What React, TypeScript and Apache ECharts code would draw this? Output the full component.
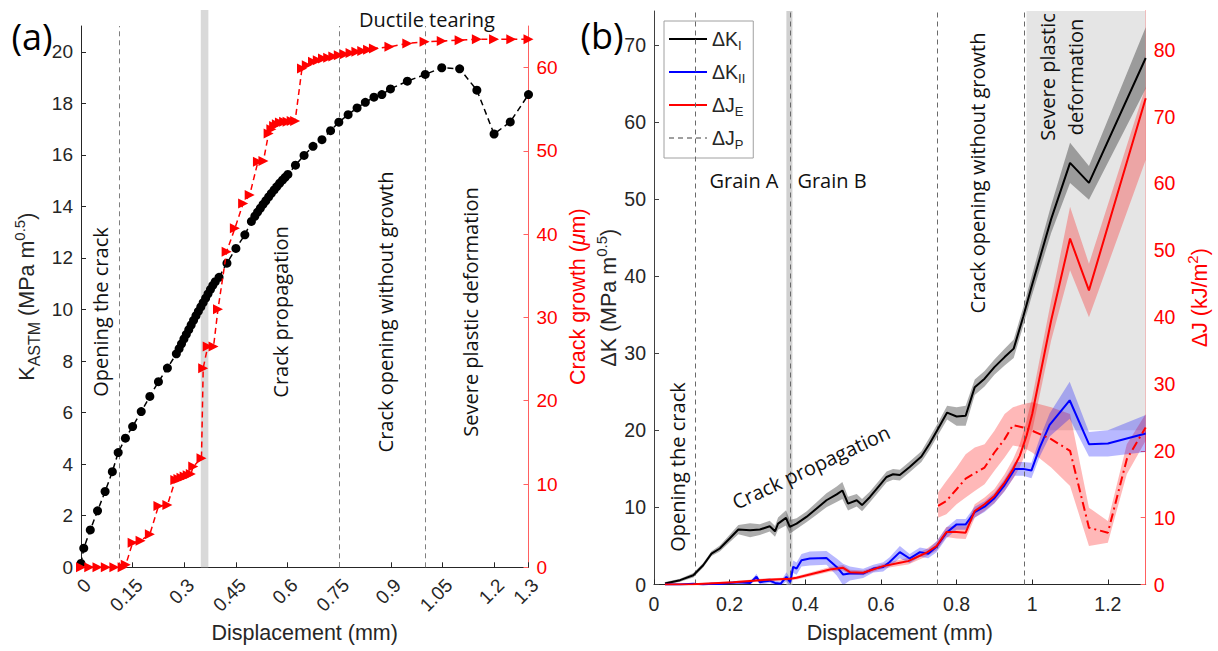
import React, { useEffect, useRef } from "react";
import * as echarts from "echarts";

// ---------- Panel (a) data ----------
const KA_x = [0, 0.008, 0.027, 0.048, 0.07, 0.091, 0.108, 0.129, 0.15, 0.175, 0.2, 0.225, 0.251, 0.277, 0.285, 0.292, 0.299, 0.306, 0.313, 0.32, 0.327, 0.334, 0.341, 0.348, 0.355, 0.362, 0.369, 0.376, 0.383, 0.39, 0.401, 0.424, 0.45, 0.476, 0.495, 0.505, 0.513, 0.521, 0.529, 0.537, 0.545, 0.553, 0.561, 0.569, 0.577, 0.585, 0.593, 0.601, 0.623, 0.648, 0.674, 0.7, 0.725, 0.749, 0.776, 0.802, 0.826, 0.851, 0.874, 0.899, 0.948, 1.0, 1.048, 1.1, 1.15, 1.2, 1.247, 1.3];
const KA_y = [0.15, 0.74, 1.45, 2.19, 2.94, 3.71, 4.45, 5.01, 5.46, 6.04, 6.63, 7.2, 7.73, 8.28, 8.48, 8.67, 8.86, 9.04, 9.22, 9.4, 9.58, 9.76, 9.93, 10.1, 10.27, 10.44, 10.61, 10.78, 10.94, 11.08, 11.25, 11.8, 12.37, 12.9, 13.42, 13.62, 13.78, 13.93, 14.08, 14.22, 14.37, 14.51, 14.64, 14.77, 14.9, 15.02, 15.13, 15.24, 15.6, 15.98, 16.33, 16.59, 16.94, 17.27, 17.56, 17.82, 18.04, 18.24, 18.34, 18.56, 18.86, 19.12, 19.38, 19.34, 18.51, 16.81, 17.28, 18.34];
const CG_x = [0, 0.024, 0.048, 0.072, 0.097, 0.121, 0.13, 0.15, 0.173, 0.2, 0.225, 0.251, 0.274, 0.283, 0.292, 0.301, 0.31, 0.319, 0.326, 0.35, 0.355, 0.368, 0.385, 0.398, 0.423, 0.447, 0.471, 0.49, 0.514, 0.53, 0.545, 0.553, 0.561, 0.569, 0.578, 0.59, 0.6, 0.612, 0.622, 0.642, 0.656, 0.674, 0.688, 0.703, 0.718, 0.733, 0.749, 0.766, 0.783, 0.8, 0.817, 0.834, 0.851, 0.896, 0.948, 0.998, 1.048, 1.1, 1.15, 1.2, 1.25, 1.3];
const CG_y = [0, 0, 0, 0, 0, 0, 0.3, 2.95, 3.2, 3.96, 7.36, 7.48, 10.48, 10.6, 10.75, 10.9, 11.05, 11.2, 12.1, 13.1, 23.9, 26.5, 26.5, 31.0, 37.9, 40.7, 43.7, 44.7, 48.7, 48.8, 52.1, 52.6, 53.0, 53.2, 53.4, 53.5, 53.5, 53.6, 53.6, 59.9, 60.3, 60.7, 60.9, 61.1, 61.2, 61.35, 61.5, 61.6, 61.75, 61.9, 62.0, 62.15, 62.3, 62.5, 62.9, 63.1, 63.2, 63.3, 63.4, 63.4, 63.4, 63.4];
const XA_TICKS = [0, 0.15, 0.3, 0.45, 0.6, 0.75, 0.9, 1.05, 1.2, 1.3];
const YA_TICKS = [0, 2, 4, 6, 8, 10, 12, 14, 16, 18, 20];
const YA2_TICKS = [0, 10, 20, 30, 40, 50, 60];
const PHASE_A = [0.108, 0.75, 1.0];
const GRAIN_BAND_A = [0.348, 0.37];

// ---------- Panel (b) data ----------
const KI_x = [0.029, 0.069, 0.104, 0.13, 0.152, 0.174, 0.2, 0.223, 0.254, 0.28, 0.306, 0.32, 0.328, 0.349, 0.359, 0.377, 0.403, 0.43, 0.456, 0.483, 0.498, 0.513, 0.536, 0.55, 0.571, 0.597, 0.615, 0.632, 0.65, 0.676, 0.707, 0.729, 0.751, 0.775, 0.8, 0.824, 0.848, 0.874, 0.9, 0.927, 0.951, 0.976, 0.998, 1.05, 1.1, 1.15, 1.3];
const KI_y = [0.13, 0.56, 1.2, 2.5, 4.0, 4.67, 5.97, 7.13, 7.04, 7.13, 7.56, 6.9, 7.9, 8.64, 7.47, 7.9, 8.77, 9.86, 10.93, 11.7, 12.2, 10.5, 10.93, 10.3, 11.36, 12.9, 13.95, 14.3, 14.2, 15.25, 16.6, 18.3, 20.2, 22.3, 21.8, 21.9, 25.6, 26.7, 28.2, 29.5, 30.6, 34.7, 38.6, 47.4, 54.7, 52.1, 68.3];
const KI_err = [0.2, 0.2, 0.3, 0.3, 0.3, 0.4, 0.5, 0.6, 0.9, 0.7, 0.7, 0.7, 0.8, 1.0, 0.9, 0.7, 0.7, 0.8, 0.9, 1.0, 1.1, 0.9, 0.8, 0.8, 0.7, 0.7, 0.7, 0.7, 0.7, 0.7, 0.7, 0.8, 0.8, 0.9, 1.2, 1.3, 1.0, 1.0, 1.0, 1.1, 1.2, 1.2, 1.3, 1.8, 2.6, 2.2, 4.0];
const KII_x = [0.029, 0.069, 0.104, 0.13, 0.152, 0.174, 0.2, 0.223, 0.254, 0.271, 0.28, 0.306, 0.32, 0.335, 0.35, 0.36, 0.368, 0.377, 0.39, 0.412, 0.456, 0.483, 0.5, 0.518, 0.553, 0.58, 0.606, 0.623, 0.65, 0.676, 0.703, 0.725, 0.747, 0.773, 0.8, 0.824, 0.848, 0.874, 0.9, 0.927, 0.954, 0.976, 0.998, 1.02, 1.046, 1.099, 1.15, 1.2, 1.3];
const KII_y = [0, 0, 0.1, 0, 0.1, 0.05, 0.2, 0.3, 0.2, 1.0, 0.3, 0.5, 0.2, 0.1, 1.0, 0.3, 2.3, 2.07, 3.15, 3.37, 3.45, 2.28, 1.3, 1.43, 1.43, 2.07, 2.28, 2.93, 4.2, 3.37, 4.2, 4.0, 4.9, 6.7, 7.8, 7.8, 9.4, 10.1, 11.2, 12.9, 15.0, 15.0, 14.8, 17.8, 20.7, 23.9, 18.2, 18.3, 19.6];
const KII_err = [0.1, 0.1, 0.1, 0.1, 0.1, 0.1, 0.2, 0.2, 0.2, 0.4, 0.3, 0.3, 0.3, 0.3, 0.6, 0.5, 0.8, 0.8, 0.8, 0.9, 0.9, 1.1, 1.4, 0.9, 0.6, 0.5, 0.6, 0.6, 0.8, 0.6, 0.6, 0.6, 0.7, 0.7, 0.7, 0.7, 0.7, 0.7, 0.7, 0.8, 0.9, 0.9, 1.0, 1.2, 1.5, 2.4, 1.6, 1.7, 2.4];
const JE_x = [0.029, 0.104, 0.21, 0.28, 0.36, 0.377, 0.465, 0.5, 0.518, 0.553, 0.606, 0.65, 0.672, 0.72, 0.747, 0.773, 0.8, 0.824, 0.848, 0.874, 0.9, 0.927, 0.949, 0.967, 0.985, 1.0, 1.05, 1.1, 1.15, 1.3];
const JE_y = [0, 0.05, 0.35, 0.65, 0.85, 1.0, 2.25, 2.5, 1.85, 1.75, 2.75, 3.25, 3.5, 4.75, 5.75, 7.85, 7.85, 7.75, 11.0, 12.0, 13.25, 15.25, 17.25, 19.25, 22.25, 25.5, 39.5, 51.75, 44.0, 72.75];
const JE_lo = [0, 0, 0.2, 0.45, 0.6, 0.75, 1.9, 2.1, 1.5, 1.4, 2.4, 2.8, 3.0, 4.2, 5.1, 7.1, 6.9, 6.8, 10.0, 11.0, 12.2, 14.0, 15.8, 17.5, 20.0, 23.0, 36.5, 47.0, 40.0, 63.5];
const JE_hi = [0.1, 0.15, 0.5, 0.85, 1.1, 1.25, 2.6, 2.9, 2.2, 2.1, 3.1, 3.7, 4.0, 5.3, 6.4, 8.6, 8.8, 8.7, 12.0, 13.0, 14.3, 16.5, 18.7, 21.0, 24.5, 28.0, 42.5, 56.5, 48.0, 74.5];
const JP_x = [0.751, 0.773, 0.8, 0.824, 0.848, 0.874, 0.9, 0.927, 0.949, 0.976, 1.0, 1.05, 1.1, 1.15, 1.2, 1.25, 1.3];
const JP_y = [11.75, 12.5, 14.25, 15.85, 16.65, 17.5, 19.75, 21.75, 23.85, 23.5, 23.0, 21.75, 20.0, 8.5, 7.75, 18.75, 23.5];
const JP_lo = [10.0, 10.5, 12.0, 13.0, 14.0, 15.0, 17.0, 19.0, 20.8, 20.5, 19.75, 17.5, 14.75, 5.75, 6.25, 16.5, 21.5];
const JP_hi = [13.75, 15.5, 17.5, 19.5, 20.5, 21.0, 23.0, 25.5, 26.5, 27.0, 27.25, 26.5, 25.5, 11.5, 9.5, 21.0, 25.5];
const XB_TICKS = [0, 0.2, 0.4, 0.6, 0.8, 1, 1.2];
const YB_TICKS = [0, 10, 20, 30, 40, 50, 60, 70];
const YB2_TICKS = [0, 10, 20, 30, 40, 50, 60, 70, 80];
const PHASE_B = [0.108, 0.358, 0.75, 0.985];
const GRAIN_BAND_B = [0.35, 0.366];
const SEVERE_REGION = { x0: 0.985, x1: 1.3, y0: 20 };
const YB_MAX = 74.4;
const YB2_MAX = 85.8;

const FONT = "'Liberation Sans', Arial, sans-serif";
const AFONT = "'Open Sans', sans-serif";
const DARK = "#262626";
const RED = "#ff0000";
const TITLE_FS = 21.5;

function band(xs: number[], lo: number[], hi: number[], color: string, xi: number, yi: number) {
  return {
    type: "custom",
    xAxisIndex: xi,
    yAxisIndex: yi,
    silent: true,
    clip: true,
    z: 3,
    data: xs.map((x, i) => [x, lo[i], hi[i]]),
    encode: { x: 0, y: [1, 2] },
    renderItem: (params: any, api: any) => {
      if (params.dataIndex !== 0) return null;
      const pts: number[][] = [];
      for (let i = 0; i < xs.length; i++) pts.push(api.coord([xs[i], hi[i]]));
      for (let i = xs.length - 1; i >= 0; i--) pts.push(api.coord([xs[i], lo[i]]));
      return { type: "polygon", shape: { points: pts }, style: { fill: color } };
    },
  };
}

const pairs = (xs: number[], ys: number[]) => xs.map((x, i) => [x, ys[i]]);

function xAxisCfg(grid: number, ticks: number[], fs: number, rotate: number, nameGap: number, extraLabel: any) {
  return {
    type: "value",
    gridIndex: grid,
    min: 0,
    max: 1.3,
    axisLine: { show: true, onZero: false, lineStyle: { color: DARK, width: 1 } },
    axisTick: { show: true, inside: true, length: 5, customValues: ticks, lineStyle: { color: DARK } },
    axisLabel: { customValues: ticks, rotate, fontSize: fs, color: DARK, fontFamily: FONT, margin: 9, ...extraLabel },
    splitLine: { show: false },
    name: "Displacement (mm)",
    nameLocation: "middle",
    nameGap,
    nameTextStyle: { fontSize: TITLE_FS, color: DARK, fontFamily: FONT },
  };
}

function yAxisCfg(grid: number, pos: string, max: number, ticks: number[], color: string, lineColor: string, fs: number, name: string, nameGap: number, rich: any) {
  return {
    type: "value",
    gridIndex: grid,
    position: pos,
    min: 0,
    max,
    axisLine: { show: true, onZero: false, lineStyle: { color: lineColor, width: 1 } },
    axisTick: { show: true, inside: true, length: 5, customValues: ticks, lineStyle: { color: lineColor } },
    axisLabel: { customValues: ticks, fontSize: fs, color, fontFamily: FONT, margin: 8 },
    splitLine: { show: false },
    name,
    nameLocation: "middle",
    nameRotate: 90,
    nameGap,
    nameTextStyle: { color, fontFamily: FONT, rich },
  };
}

function makeRich(color: string) {
  return {
    b: { fontSize: TITLE_FS, color, fontFamily: FONT, lineHeight: 30, verticalAlign: "middle" },
    s: { fontSize: 16, color, fontFamily: FONT, lineHeight: 16, verticalAlign: "bottom" },
    p: { fontSize: 15, color, fontFamily: FONT, lineHeight: 15, verticalAlign: "top" },
    i: { fontSize: TITLE_FS, color, fontFamily: FONT, fontStyle: "italic", lineHeight: 30, verticalAlign: "middle" },
  };
}

function vText(text: string, x: number, y: number, rot: number, fs = 20, lh?: number) {
  return {
    type: "text",
    x,
    y,
    rotation: rot,
    silent: true,
    z: 20,
    style: {
      text,
      fill: "#111",
      font: `${fs}px ${AFONT}`,
      align: "center",
      verticalAlign: "middle",
      lineHeight: lh,
    },
  };
}

export default function App() {
  const ref = useRef<HTMLDivElement>(null);
  useEffect(() => {
    if (!ref.current) return;
    const chart = echarts.init(ref.current, undefined, { renderer: "svg" });
    const legendRich = {
      b: { fontSize: 19.5, color: DARK, fontFamily: FONT, lineHeight: 26, verticalAlign: "middle" },
      s: { fontSize: 13, color: DARK, fontFamily: FONT, lineHeight: 13, verticalAlign: "bottom" },
    };
    const graphics: any[] = [
      { type: "text", x: 32, y: 36, silent: true, style: { text: "(a)", font: `36px ${AFONT}`, fill: "#000", align: "center", verticalAlign: "middle" } },
      { type: "text", x: 602, y: 35, silent: true, style: { text: "(b)", font: `36px ${AFONT}`, fill: "#000", align: "center", verticalAlign: "middle" } },
      vText("Opening the crack", 100, 312, Math.PI / 2),
      vText("Crack propagation", 280, 312, Math.PI / 2),
      vText("Crack opening without growth", 385, 312, Math.PI / 2),
      vText("Severe plastic deformation", 470, 312, Math.PI / 2),
      vText("Ductile tearing", 427, 19, 0),
      vText("Grain A", 744, 180, 0),
      vText("Grain B", 832, 180, 0),
      vText("Opening the crack", 677, 467, Math.PI / 2),
      vText("Crack propagation", 811, 467, (25 * Math.PI) / 180),
      vText("Crack opening without growth", 977, 173, Math.PI / 2),
      vText("Severe plastic\ndeformation", 1061, 77, Math.PI / 2, 20, 28),
    ];
    const option: any = {
      animation: false,
      backgroundColor: "#fff",
      grid: [
        { left: 81, top: 26, width: 447.5, height: 541.3 },
        { left: 654, top: 11, width: 491.7, height: 573.5 },
      ],
      xAxis: [
        xAxisCfg(0, XA_TICKS, 19, 45, 55, { verticalAlign: "top", margin: 8 }),
        xAxisCfg(1, XB_TICKS, 19.5, 0, 37, {}),
      ],
      yAxis: [
        yAxisCfg(0, "left", 21, YA_TICKS, DARK, DARK, 19, "{b|K}{s|ASTM}{b| (MPa m}{p|0.5}{b|)}", 39, makeRich(DARK)),
        yAxisCfg(0, "right", 65, YA2_TICKS, RED, "#ff6060", 19, "{b|Crack growth (}{i|μ}{b|m)}", 34, makeRich(RED)),
        yAxisCfg(1, "left", YB_MAX, YB_TICKS, DARK, "#404040", 19.5, "{b|ΔK (MPa m}{p|0.5}{b|)}", 25, makeRich(DARK)),
        yAxisCfg(1, "right", YB2_MAX, YB2_TICKS, RED, "#ff6060", 19.5, "{b|ΔJ (kJ/m}{p|2}{b|)}", 39, makeRich(RED)),
      ],
      legend: {
        orient: "vertical",
        left: 664,
        top: 21,
        padding: [8, 8, 7, 4],
        itemGap: 10,
        itemWidth: 38,
        itemHeight: 12,
        borderColor: "#a0a0a0",
        borderWidth: 1,
        backgroundColor: "#fff",
        selectedMode: false,
        itemStyle: { color: "transparent", borderWidth: 0, opacity: 0 },
        data: [
          { name: "ΔK_I" },
          { name: "ΔK_II" },
          { name: "ΔJ_E" },
          { name: "ΔJ_P", lineStyle: { color: "#808080", type: [5, 4], width: 1.5 } },
        ],
        formatter: (n: string) => {
          const [b, s] = n.split("_");
          return `{b|${b}}{s|${s}}`;
        },
        textStyle: { rich: legendRich },
      },
      series: [
        // panel (a) phase markers
        {
          type: "line",
          xAxisIndex: 0,
          yAxisIndex: 0,
          data: [],
          z: 1,
          silent: true,
          markArea: {
            silent: true,
            itemStyle: { color: "#d9d9d9" },
            data: [[{ xAxis: GRAIN_BAND_A[0] }, { xAxis: GRAIN_BAND_A[1] }]],
          },
          markLine: {
            silent: true,
            symbol: "none",
            label: { show: false },
            lineStyle: { color: "#7f7f7f", type: [5, 4], width: 1 },
            data: PHASE_A.map((x) => ({ xAxis: x })),
          },
        },
        {
          name: "K_ASTM",
          type: "line",
          xAxisIndex: 0,
          yAxisIndex: 0,
          data: pairs(KA_x, KA_y),
          symbol: "circle",
          symbolSize: 9,
          itemStyle: { color: "#000" },
          lineStyle: { color: "#000", width: 1.5, type: [6, 4] },
          z: 5,
        },
        {
          name: "Crack growth",
          type: "line",
          xAxisIndex: 0,
          yAxisIndex: 1,
          data: pairs(CG_x, CG_y),
          symbol: "triangle",
          symbolRotate: -90,
          symbolSize: 10,
          itemStyle: { color: RED },
          lineStyle: { color: RED, width: 1.5, type: [6, 4] },
          z: 6,
        },
        // panel (b) phase markers
        {
          type: "line",
          xAxisIndex: 1,
          yAxisIndex: 2,
          data: [],
          z: 1,
          silent: true,
          markArea: {
            silent: true,
            data: [
              [{ xAxis: GRAIN_BAND_B[0], itemStyle: { color: "#d0d0d0" } }, { xAxis: GRAIN_BAND_B[1] }],
              [
                { xAxis: SEVERE_REGION.x0, yAxis: SEVERE_REGION.y0, itemStyle: { color: "#e5e5e5" } },
                { xAxis: SEVERE_REGION.x1, yAxis: YB_MAX },
              ],
            ],
          },
          markLine: {
            silent: true,
            symbol: "none",
            label: { show: false },
            lineStyle: { color: "#6a6a6a", type: [5, 4], width: 1 },
            data: PHASE_B.map((x) => ({ xAxis: x })),
          },
        },
        band(KI_x, KI_y.map((v, i) => v - KI_err[i]), KI_y.map((v, i) => v + KI_err[i]), "rgba(0,0,0,0.32)", 1, 2),
        band(JP_x, JP_lo, JP_hi, "rgba(255,0,0,0.28)", 1, 3),
        band(JE_x, JE_lo, JE_hi, "rgba(255,0,0,0.28)", 1, 3),
        band(KII_x, KII_y.map((v, i) => v - KII_err[i]), KII_y.map((v, i) => v + KII_err[i]), "rgba(0,0,255,0.28)", 1, 2),
        {
          name: "ΔK_I",
          type: "line",
          xAxisIndex: 1,
          yAxisIndex: 2,
          data: pairs(KI_x, KI_y),
          symbol: "none",
          lineStyle: { color: "#000", width: 2 },
          itemStyle: { color: "#000" },
          z: 6,
        },
        {
          name: "ΔK_II",
          type: "line",
          xAxisIndex: 1,
          yAxisIndex: 2,
          data: pairs(KII_x, KII_y),
          symbol: "none",
          lineStyle: { color: "#0000ff", width: 2 },
          itemStyle: { color: "#0000ff" },
          z: 6,
        },
        {
          name: "ΔJ_E",
          type: "line",
          xAxisIndex: 1,
          yAxisIndex: 3,
          data: pairs(JE_x, JE_y),
          symbol: "none",
          lineStyle: { color: RED, width: 2 },
          itemStyle: { color: RED },
          z: 6,
        },
        {
          name: "ΔJ_P",
          type: "line",
          xAxisIndex: 1,
          yAxisIndex: 3,
          data: pairs(JP_x, JP_y),
          symbol: "none",
          lineStyle: { color: RED, width: 2, type: [9, 4, 2, 4] },
          itemStyle: { color: RED },
          z: 6,
        },
      ],
      graphic: graphics,
    };
    chart.setOption(option);
    // extend the grain band of panel (a) slightly above the plot, as in the original figure
    const xL = chart.convertToPixel({ xAxisIndex: 0 } as any, GRAIN_BAND_A[0]) as number;
    const xR = chart.convertToPixel({ xAxisIndex: 0 } as any, GRAIN_BAND_A[1]) as number;
    const yTop = chart.convertToPixel({ yAxisIndex: 0 } as any, 21) as number;
    chart.setOption({
      graphic: [
        ...graphics,
        { type: "rect", silent: true, z: 0, shape: { x: xL, y: yTop - 16, width: xR - xL, height: 16 }, style: { fill: "#d9d9d9" } },
      ],
    });
    return () => chart.dispose();
  }, []);
  return <div ref={ref} style={{ position: "absolute", left: 0, top: 0, width: 1218, height: 651 }} />;
}
